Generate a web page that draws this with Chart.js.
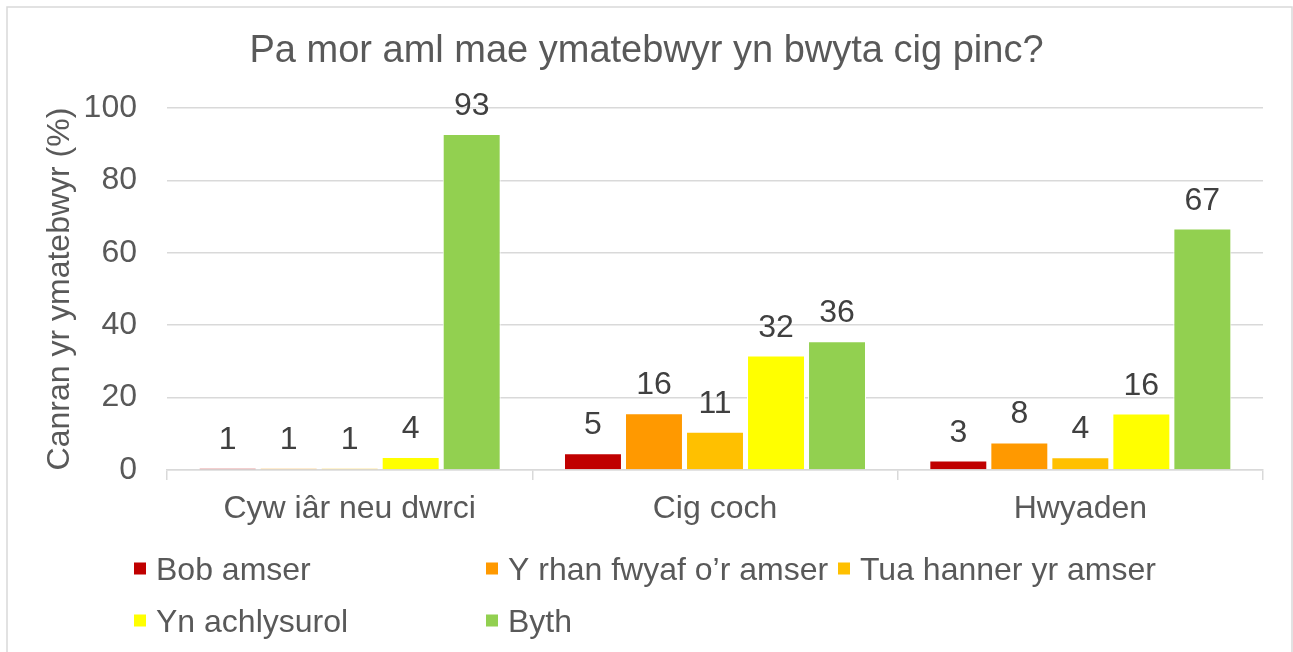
<!DOCTYPE html>
<html>
<head>
<meta charset="utf-8">
<script src="https://cdn.jsdelivr.net/npm/chart.js@4.4.0/dist/chart.umd.min.js"></script>
<style>
  html, body { margin: 0; padding: 0; background: #ffffff; }
  #wrap { width: 1293px; height: 652px; position: relative; }
</style>
</head>
<body>
<div id="wrap"><canvas id="c" width="1293" height="652"></canvas></div>
<script>
const chartTitle = "Pa mor aml mae ymatebwyr yn bwyta cig pinc?";
const yAxisTitle = "Canran yr ymatebwyr (%)";
const categories = ["Cyw iâr neu dwrci", "Cig coch", "Hwyaden"];
const seriesNames = ["Bob amser", "Y rhan fwyaf o’r amser", "Tua hanner yr amser", "Yn achlysurol", "Byth"];
const bobAmser = [0.5, 4.6, 2.6];
const rhanFwyaf = [0.5, 15.7, 7.6];
const tuaHanner = [0.5, 10.6, 3.5];
const ynAchlysurol = [3.6, 31.6, 15.6];
const byth = [92.8, 35.6, 66.7];
const seriesColors = ["#C00000", "#FF9900", "#FFC000", "#FFFF00", "#92D050"];
const yTicks = [0, 20, 40, 60, 80, 100];

const FONT = "'Liberation Sans', Arial, sans-serif";
const TEXT = "#595959";
const GRID = "#D9D9D9";

const seriesValues = [bobAmser, rhanFwyaf, tuaHanner, ynAchlysurol, byth];

const datasets = seriesNames.map((name, i) => ({
  label: name,
  data: seriesValues[i],
  backgroundColor: seriesColors[i],
  borderColor: "#FFFFFF",
  borderWidth: 1,
  categoryPercentage: 0.835,
  barPercentage: 0.95
}));

const frame = {
  id: "frame",
  beforeDraw(chart) {
    const ctx = chart.ctx;
    ctx.save();
    ctx.fillStyle = "#FFFFFF";
    ctx.fillRect(0, 0, chart.width, chart.height);
    ctx.strokeStyle = GRID;
    ctx.lineWidth = 1.5;
    ctx.strokeRect(7, 7, 1285, 700);
    ctx.restore();
  }
};

const valueLabels = {
  id: "valueLabels",
  afterDatasetsDraw(chart) {
    const ctx = chart.ctx;
    ctx.save();
    ctx.font = "32px " + FONT;
    ctx.fillStyle = "#404040";
    ctx.textAlign = "center";
    ctx.textBaseline = "alphabetic";
    chart.data.datasets.forEach((ds, di) => {
      const meta = chart.getDatasetMeta(di);
      meta.data.forEach((el, j) => {
        const v = ds.data[j];
        ctx.fillText(String(Math.round(v)), el.x, el.y - 19);
      });
    });
    ctx.restore();
  }
};

const gridLegend = {
  id: "gridLegend",
  afterDraw(chart) {
    const ctx = chart.ctx;
    const startX = 134, colW = 352, cols = 3;
    const rowY = [568.5, 620.5];
    ctx.save();
    ctx.font = "32px " + FONT;
    ctx.textBaseline = "alphabetic";
    ctx.textAlign = "left";
    chart.data.datasets.forEach((ds, i) => {
      const col = i % cols, row = Math.floor(i / cols);
      const x = startX + col * colW;
      const cy = rowY[row];
      ctx.fillStyle = ds.backgroundColor;
      ctx.fillRect(x, cy - 6, 12, 12);
      ctx.fillStyle = TEXT;
      ctx.fillText(ds.label, x + 22, cy + 11);
    });
    ctx.restore();
  }
};

new Chart(document.getElementById("c"), {
  type: "bar",
  data: { labels: categories, datasets },
  plugins: [frame, valueLabels, gridLegend],
  options: {
    responsive: false,
    animation: false,
    devicePixelRatio: 1,
    layout: { padding: { left: 30, right: 30, top: 0, bottom: 0 } },
    plugins: {
      legend: { display: false },
      tooltip: { enabled: false },
      title: {
        display: true,
        text: chartTitle,
        color: TEXT,
        font: { family: FONT, size: 38, weight: "normal", lineHeight: 1.2 },
        padding: { top: 29, bottom: 33.4 }
      }
    },
    scales: {
      x: {
        grid: { display: true, drawOnChartArea: false, drawTicks: true, tickLength: 10, color: GRID, lineWidth: 1.5 },
        border: { display: true, color: GRID, width: 1.5 },
        ticks: { color: TEXT, font: { family: FONT, size: 32 }, padding: 10, maxRotation: 0 },
        afterFit(scale) { scale.height = 182; }
      },
      y: {
        min: 0,
        max: 100,
        afterBuildTicks(scale) { scale.ticks = yTicks.map(v => ({ value: v })); },
        grid: { color: GRID, lineWidth: 1.5, drawTicks: false },
        border: { display: false },
        ticks: { color: TEXT, font: { family: FONT, size: 32 }, padding: 30 },
        title: {
          display: true,
          text: yAxisTitle,
          color: TEXT,
          font: { family: FONT, size: 32, lineHeight: 1.2 },
          padding: { top: 11, bottom: 0 }
        },
        afterFit(scale) { scale.width = 137; }
      }
    }
  }
});
</script>
</body>
</html>
